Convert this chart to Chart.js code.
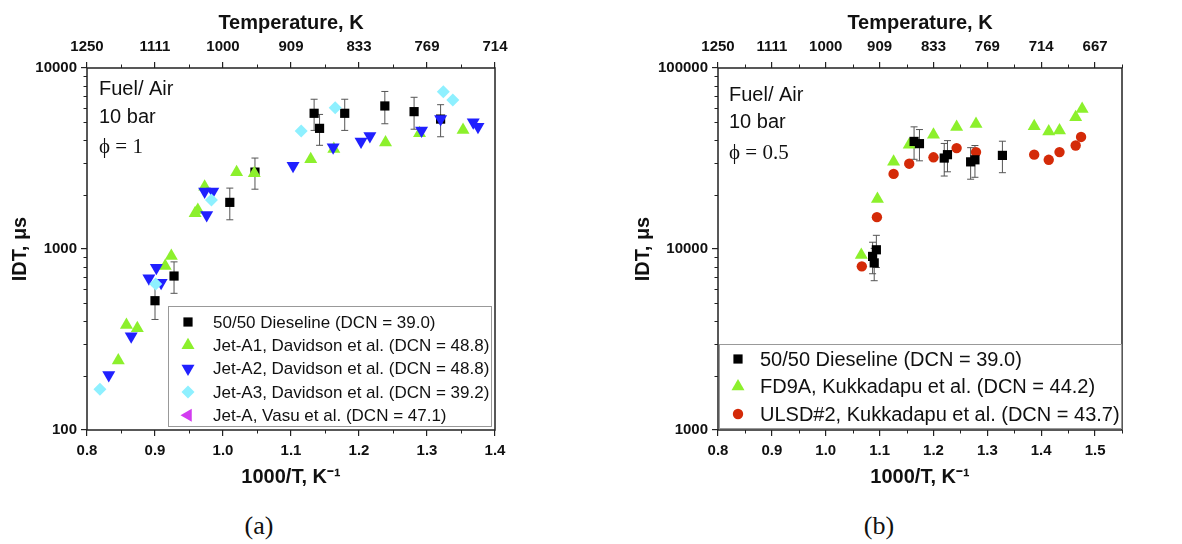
<!DOCTYPE html>
<html>
<head>
<meta charset="utf-8">
<script src="https://cdn.jsdelivr.net/npm/chart.js@4.4.1/dist/chart.umd.min.js"></script>
<style>
    html, body { margin: 0; padding: 0; background: #fff; }
    body { width: 1182px; height: 544px; position: relative; overflow: hidden; }
    .panel { position: absolute; top: 0; }
    .cap { position: absolute; top: 511px; width: 60px; text-align: center; line-height: 30px;
           font: 26px 'Liberation Serif', 'Times New Roman', serif; color: #111; }
</style>
</head>
<body>
<div class="panel" style="left:0;width:590px;height:500px"><canvas id="chartA" width="590" height="500"></canvas></div>
<div class="panel" style="left:631px;width:551px;height:500px"><canvas id="chartB" width="551" height="500"></canvas></div>
<div class="cap" style="left:229px">(a)</div>
<div class="cap" style="left:849px">(b)</div>
<script>
// ---- panel (a): Fuel/Air, 10 bar, phi = 1 ----
const xTicksA = [0.8, 0.9, 1.0, 1.1, 1.2, 1.3, 1.4];
const tempLabelsA = ['1250', '1111', '1000', '909', '833', '769', '714'];
const yTicksA = [100, 1000, 10000];

const dieselineAX = [0.900, 0.928, 1.010, 1.047, 1.134, 1.142, 1.179, 1.238, 1.281, 1.320];
const dieselineAY = [518, 709, 1810, 2660, 5620, 4640, 5620, 6170, 5740, 5220];
const dieselineAErr = [110, 140, 360, 520, 1100, 900, 1100, 1250, 1150, 1050];

const jetA1X = [0.846, 0.858, 0.874, 0.915, 0.924, 0.959, 0.963, 0.973, 1.020, 1.046, 1.129, 1.163, 1.239, 1.289, 1.353];
const jetA1Y = [242, 380, 365, 806, 914, 1575, 1640, 2210, 2655, 2620, 3130, 3570, 3880, 4360, 4540];

const jetA2X = [0.832, 0.865, 0.891, 0.902, 0.909, 0.973, 0.976, 0.985, 1.103, 1.162, 1.203, 1.216, 1.292, 1.320, 1.368, 1.375];
const jetA2Y = [201, 330, 689, 789, 651, 2075, 1540, 2075, 2885, 3650, 3920, 4210, 4510, 5220, 5010, 4740];

const jetA3X = [0.819, 0.901, 0.983, 1.115, 1.165, 1.324, 1.338];
const jetA3Y = [168, 641, 1867, 4490, 6040, 7400, 6660];

const jetAVasuX = [];
const jetAVasuY = [];

// ---- panel (b): Fuel/Air, 10 bar, phi = 0.5 ----
const xTicksB = [0.8, 0.9, 1.0, 1.1, 1.2, 1.3, 1.4, 1.5];
const tempLabelsB = ['1250', '1111', '1000', '909', '833', '769', '714', '667'];
const yTicksB = [1000, 10000, 100000];

const dieselineBX = [1.087, 1.090, 1.094, 1.164, 1.174, 1.220, 1.226, 1.269, 1.277, 1.328];
const dieselineBY = [9100, 8380, 9900, 39300, 38200, 31800, 33200, 30300, 31100, 32900];
const dieselineBErr = [1800, 1700, 2000, 8000, 7500, 6500, 6500, 6000, 6200, 6500];

const fd9aX = [1.066, 1.096, 1.126, 1.155, 1.200, 1.243, 1.279, 1.387, 1.414, 1.434, 1.464, 1.476];
const fd9aY = [9270, 18900, 30300, 37700, 42800, 47200, 49100, 47600, 44600, 45200, 53500, 59300];

const ulsdX = [1.067, 1.095, 1.126, 1.155, 1.200, 1.243, 1.279, 1.387, 1.414, 1.434, 1.464, 1.474];
const ulsdY = [8020, 15000, 26000, 29600, 32100, 36100, 34300, 33200, 31100, 34300, 37300, 41600];

const SANS = "'Liberation Sans', Arial, sans-serif";
const SERIF = "'Liberation Serif', 'Times New Roman', serif";
Chart.defaults.font.family = SANS;
Chart.defaults.color = '#111';

const zip = (xs, ys) => xs.map((x, i) => ({ x, y: ys[i] }));

// frame, minor ticks, error bars, legend box and the condition text
const decor = {
    id: 'decor',
    beforeDatasetsDraw(chart, args, opts) {
        const { ctx, chartArea: a } = chart;
        const xs = chart.scales.x, ys = chart.scales.y;
        ctx.save();
        ctx.strokeStyle = '#222';
        ctx.lineWidth = 1;
        ctx.beginPath();
        for (let v = xs.min + 0.05; v < xs.max + 1e-6; v += 0.1) {
            const px = Math.round(xs.getPixelForValue(v)) + 0.5;
            ctx.moveTo(px, a.bottom); ctx.lineTo(px, a.bottom + 3.5);
            ctx.moveTo(px, a.top); ctx.lineTo(px, a.top - 3.5);
        }
        for (const d of opts.yTicks.slice(0, -1)) {
            for (let k = 2; k < 10; k++) {
                const py = Math.round(ys.getPixelForValue(d * k)) + 0.5;
                ctx.moveTo(a.left, py); ctx.lineTo(a.left - 3.5, py);
            }
        }
        ctx.stroke();

        ctx.lineWidth = 1.5;
        ctx.strokeRect(a.left, a.top, a.right - a.left, a.bottom - a.top);

        // error bars
        ctx.strokeStyle = '#555';
        ctx.lineWidth = 1;
        chart.data.datasets.forEach(ds => {
            if (!ds.errors) return;
            ds.data.forEach((p, i) => {
                const e = ds.errors[i];
                const px = xs.getPixelForValue(p.x);
                const top = ys.getPixelForValue(p.y + e);
                const bot = ys.getPixelForValue(p.y - e);
                ctx.beginPath();
                ctx.moveTo(px, top); ctx.lineTo(px, bot);
                ctx.moveTo(px - 3.5, top); ctx.lineTo(px + 3.5, top);
                ctx.moveTo(px - 3.5, bot); ctx.lineTo(px + 3.5, bot);
                ctx.stroke();
            });
        });
        ctx.restore();
    },
    afterDraw(chart, args, opts) {
        const { ctx, chartArea: a } = chart;
        ctx.save();
        ctx.fillStyle = '#111';
        ctx.textBaseline = 'middle';
        opts.notes.forEach(n => {
            ctx.font = n.font;
            ctx.fillText(n.text, a.left + n.dx, a.top + n.dy);
        });

        const lg = opts.legend;
        const x0 = a.left + lg.left, y0 = lg.top, x1 = a.right - lg.right, y1 = a.bottom - lg.bottom;
        ctx.fillStyle = '#fff';
        ctx.fillRect(x0, y0, x1 - x0, y1 - y0);
        ctx.strokeStyle = '#999';
        ctx.lineWidth = 1;
        ctx.strokeRect(x0 + 0.5, y0 + 0.5, x1 - x0 - 1, y1 - y0 - 1);
        ctx.font = lg.fontSize + 'px ' + SANS;
        chart.data.datasets.forEach((ds, i) => {
            const yy = y0 + lg.first + i * lg.step;
            ctx.fillStyle = ds.backgroundColor;
            Chart.helpers.drawPoint(ctx, {
                pointStyle: ds.pointStyle,
                rotation: ds.pointRotation || 0,
                radius: ds.pointRadius,
                borderWidth: 0
            }, x0 + lg.sym, yy);
            ctx.fillStyle = '#111';
            ctx.fillText(ds.label, x0 + lg.text, yy + 1);
        });
        ctx.restore();
    }
};

function makePanel(id, cfg) {
    const tickFont = { size: 15, weight: 'bold' };
    const titleFont = { size: 20, weight: 'bold' };
    const grid = { drawOnChartArea: false, drawTicks: true, tickLength: 6, color: '#222', lineWidth: 1.2 };
    return new Chart(document.getElementById(id), {
        type: 'scatter',
        data: { datasets: cfg.datasets },
        options: {
            responsive: false,
            animation: false,
            events: [],
            layout: { padding: { left: 0, top: 0, right: cfg.padRight, bottom: 0 } },
            plugins: {
                legend: { display: false },
                tooltip: { enabled: false },
                decor: { yTicks: cfg.yTicks, notes: cfg.notes, legend: cfg.legend }
            },
            scales: {
                x: {
                    type: 'linear', position: 'bottom', min: cfg.xMin, max: cfg.xMax,
                    afterBuildTicks: s => { s.ticks = cfg.xTicks.map(v => ({ value: v })); },
                    afterFit: s => { s.height = 70; },
                    grid, border: { display: false },
                    ticks: { font: tickFont, padding: 6, autoSkip: false, maxRotation: 0, callback: v => v.toFixed(1) },
                    title: { display: true, text: '1000/T, K⁻¹', font: titleFont, padding: { top: 0, bottom: 11 } }
                },
                x2: {
                    type: 'linear', position: 'top', min: cfg.xMin, max: cfg.xMax,
                    afterBuildTicks: s => { s.ticks = cfg.xTicks.map(v => ({ value: v })); },
                    afterFit: s => { s.height = 68; },
                    grid, border: { display: false },
                    ticks: { font: tickFont, padding: 6, autoSkip: false, maxRotation: 0, callback: (v, i) => cfg.tempLabels[i] },
                    title: { display: true, text: 'Temperature, K', font: titleFont, padding: { top: 11, bottom: 0 } }
                },
                y: {
                    type: 'logarithmic', min: cfg.yMin, max: cfg.yMax,
                    afterBuildTicks: s => { s.ticks = cfg.yTicks.map(v => ({ value: v })); },
                    afterFit: s => { s.width = 87; },
                    grid, border: { display: false },
                    ticks: { font: tickFont, padding: 4, autoSkip: false, callback: v => String(v) },
                    title: { display: true, text: 'IDT, μs', font: titleFont, padding: { top: cfg.yTitlePad, bottom: 0 } }
                }
            }
        },
        plugins: [decor]
    });
}

const noteSans = '20px ' + SANS;
const noteSerif = '21px ' + SERIF;

makePanel('chartA', {
    xMin: 0.8, xMax: 1.4, yMin: 100, yMax: 10000,
    xTicks: xTicksA, tempLabels: tempLabelsA, yTicks: yTicksA,
    padRight: 95, yTitlePad: 8,
    notes: [
        { text: 'Fuel/ Air', dx: 12, dy: 21, font: noteSans },
        { text: '10 bar', dx: 12, dy: 49, font: noteSans },
        { text: 'ϕ = 1', dx: 12, dy: 79, font: noteSerif }
    ],
    legend: { left: 81, right: 3, top: 306, bottom: 3, sym: 20, text: 45, first: 16, step: 23.3, fontSize: 17 },
    datasets: [
        { label: '50/50 Dieseline (DCN = 39.0)', data: zip(dieselineAX, dieselineAY), errors: dieselineAErr,
          pointStyle: 'rect', pointRadius: 6.5, backgroundColor: '#000', pointBorderWidth: 0, order: 4 },
        { label: 'Jet-A1, Davidson et al. (DCN = 48.8)', data: zip(jetA1X, jetA1Y),
          pointStyle: 'triangle', pointRadius: 7.5, backgroundColor: '#8cf02c', pointBorderWidth: 0, order: 3 },
        { label: 'Jet-A2, Davidson et al. (DCN = 48.8)', data: zip(jetA2X, jetA2Y),
          pointStyle: 'triangle', pointRotation: 180, pointRadius: 7.5, backgroundColor: '#2020ff', pointBorderWidth: 0, order: 2 },
        { label: 'Jet-A3, Davidson et al. (DCN = 39.2)', data: zip(jetA3X, jetA3Y),
          pointStyle: 'rectRot', pointRadius: 6.5, backgroundColor: '#8ef0ff', pointBorderWidth: 0, order: 1 },
        { label: 'Jet-A, Vasu et al. (DCN = 47.1)', data: zip(jetAVasuX, jetAVasuY),
          pointStyle: 'triangle', pointRotation: -90, pointRadius: 7.5, backgroundColor: '#d23cf0', pointBorderWidth: 0, order: 0 }
    ]
});

makePanel('chartB', {
    xMin: 0.8, xMax: 1.55, yMin: 1000, yMax: 100000,
    xTicks: xTicksB, tempLabels: tempLabelsB, yTicks: yTicksB,
    padRight: 60, yTitlePad: 0,
    notes: [
        { text: 'Fuel/ Air', dx: 11, dy: 27, font: noteSans },
        { text: '10 bar', dx: 11, dy: 54, font: noteSans },
        { text: 'ϕ = 0.5', dx: 11, dy: 85, font: noteSerif }
    ],
    legend: { left: 1, right: 0, top: 344, bottom: 1, sym: 19, text: 41, first: 15, step: 27.5, fontSize: 20 },
    datasets: [
        { label: '50/50 Dieseline (DCN = 39.0)', data: zip(dieselineBX, dieselineBY), errors: dieselineBErr,
          pointStyle: 'rect', pointRadius: 6.5, backgroundColor: '#000', pointBorderWidth: 0, order: 0 },
        { label: 'FD9A, Kukkadapu et al. (DCN = 44.2)', data: zip(fd9aX, fd9aY),
          pointStyle: 'triangle', pointRadius: 7.5, backgroundColor: '#8cf02c', pointBorderWidth: 0, order: 1 },
        { label: 'ULSD#2, Kukkadapu et al. (DCN = 43.7)', data: zip(ulsdX, ulsdY),
          pointStyle: 'circle', pointRadius: 5.2, backgroundColor: '#d42a08', pointBorderWidth: 0, order: 2 }
    ]
});
</script>
</body>
</html>
